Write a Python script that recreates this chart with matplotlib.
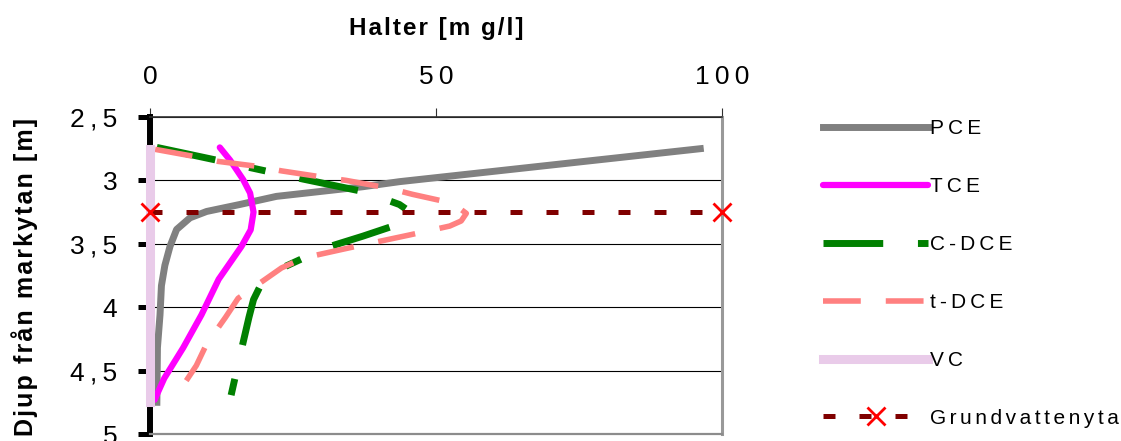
import matplotlib.pyplot as plt

plt.rcParams['font.family'] = ['Liberation Sans', 'DejaVu Sans']

# halter [mg/l] mot djup [m]
pce_halt = [96.2, 43.6, 37.2, 22.1, 15.7, 9.9, 7.0, 4.65, 3.5, 2.6, 2.0, 1.75, 1.3, 1.2]
pce_djup = [2.75, 3.01, 3.05, 3.126, 3.19, 3.245, 3.295, 3.387, 3.52, 3.67, 3.83, 4.06, 4.32, 4.75]

tce_halt = [12.2, 14.0, 16.3, 17.5, 18.1, 17.6, 16.0, 14.0, 12.0, 9.0, 5.8, 2.5, 1.2, 0.8]
tce_djup = [2.74, 2.84, 2.995, 3.10, 3.25, 3.39, 3.52, 3.65, 3.78, 4.06, 4.32, 4.56, 4.69, 4.73]

cdce_halt = [1.2, 11.6, 17.6, 26.8, 37.5, 43.6, 45.7, 45.4, 42.5, 37.2, 30.8, 23.1, 21.1,
             19.3, 18.1, 17.3, 15.7, 14.0]
cdce_djup = [2.74, 2.84, 2.90, 2.99, 3.09, 3.19, 3.255, 3.295, 3.36, 3.44, 3.53, 3.69, 3.75,
             3.83, 3.94, 4.08, 4.39, 4.73]

tdce_halt = [0.9, 7.6, 11.9, 18.9, 23.0, 30.3, 34.3, 41.6, 45.9, 52.9, 55.3, 54.4, 52.4,
             49.4, 45.4, 38.1, 34.0, 27.0, 23.0, 15.4, 13.2, 9.9, 8.1, 5.0, 4.5]
tdce_djup = [2.755, 2.81, 2.85, 2.89, 2.925, 2.975, 3.0, 3.06, 3.11, 3.18, 3.26, 3.32, 3.36,
             3.39, 3.43, 3.50, 3.54, 3.61, 3.69, 3.93, 4.08, 4.29, 4.46, 4.67, 4.70]

vc_halt = [0, 0, 0, 0, 0]
vc_djup = [2.75, 3.25, 3.75, 4.25, 4.75]

gv_halt = [0, 100]
gv_djup = [3.25, 3.25]

x_ticks = [0, 50, 100]
y_ticks = [2.5, 3, 3.5, 4, 4.5, 5]
y_labels = ['2,5', '3', '3,5', '4', '4,5', '5']


def glest(s, sep='\u2009'):
    return sep.join(s)


fig = plt.figure(figsize=(11.21, 4.41), dpi=100)
ax = fig.add_axes([150 / 1121, 7 / 441, 572 / 1121, 317 / 441])

ax.plot(pce_halt, pce_djup, color='#808080', lw=5.0, label=glest('PCE'))
ax.plot(tce_halt, tce_djup, color='#ff00ff', lw=4.5, solid_capstyle='round',
        label=glest('TCE'))
ax.plot(cdce_halt, cdce_djup, color='#008000', lw=5.0, ls=(0, (8.6, 5.0, 2.4, 5.0)),
        label=glest('C-DCE'))
ax.plot(tdce_halt, tdce_djup, color='#ff8080', lw=4.0, ls=(0, (6.8, 4.5)),
        label=glest('t-DCE'))
ax.plot(vc_halt, vc_djup, color='#e9cbe9', lw=6.5, clip_on=False, zorder=3,
        label=glest('VC'))
ax.plot(gv_halt, gv_djup, color='#800000', lw=3.6, ls=(0, (2.4, 4.8)),
        marker='x', ms=13, mew=2, mec='#ff0000', clip_on=False, zorder=3.5,
        label=glest('Grundvattenyta', '\u2006'))

ax.set_xlim(0, 100)
ax.set_ylim(5, 2.5)

ax.xaxis.tick_top()
ax.set_xticks(x_ticks)
ax.set_xticklabels([glest(str(v)) for v in x_ticks])
ax.set_yticks(y_ticks)
ax.set_yticklabels([glest(s) for s in y_labels])
ax.tick_params(axis='x', direction='out', length=6.5, width=0.8, color='#303030',
               pad=14, labelsize=19)
ax.tick_params(axis='y', direction='out', length=9, width=3.6, color='black',
               pad=14.5, labelsize=19)

ax.yaxis.grid(True, color='black', lw=0.8)
ax.set_axisbelow(True)

ax.spines['left'].set_color('black')
ax.spines['left'].set_linewidth(4.3)
ax.spines['top'].set_color('#303030')
ax.spines['top'].set_linewidth(1.2)
ax.spines['right'].set_color('#999999')
ax.spines['right'].set_linewidth(2.2)
ax.spines['bottom'].set_color('#8c8c8c')
ax.spines['bottom'].set_linewidth(1.6)

ax.set_xlabel(glest('Halter [m g/l]', '\u200a'), fontsize=17.5, fontweight='bold')
ax.xaxis.set_label_position('top')
ax.xaxis.set_label_coords(0.5, 1.26)
ax.set_ylabel(glest('Djup från markytan [m]', '\u200a'), fontsize=18, fontweight='bold')
ax.yaxis.set_label_coords(-0.196, 0.495)

ax.legend(loc='upper left', bbox_to_anchor=(823 / 1121, 1 - 119 / 441),
          bbox_transform=fig.transFigure, frameon=False, fontsize=15,
          handlelength=5.04, handletextpad=0.1, labelspacing=1.87,
          borderpad=0, borderaxespad=0, numpoints=1)

fig.savefig('out.png', dpi=100)
